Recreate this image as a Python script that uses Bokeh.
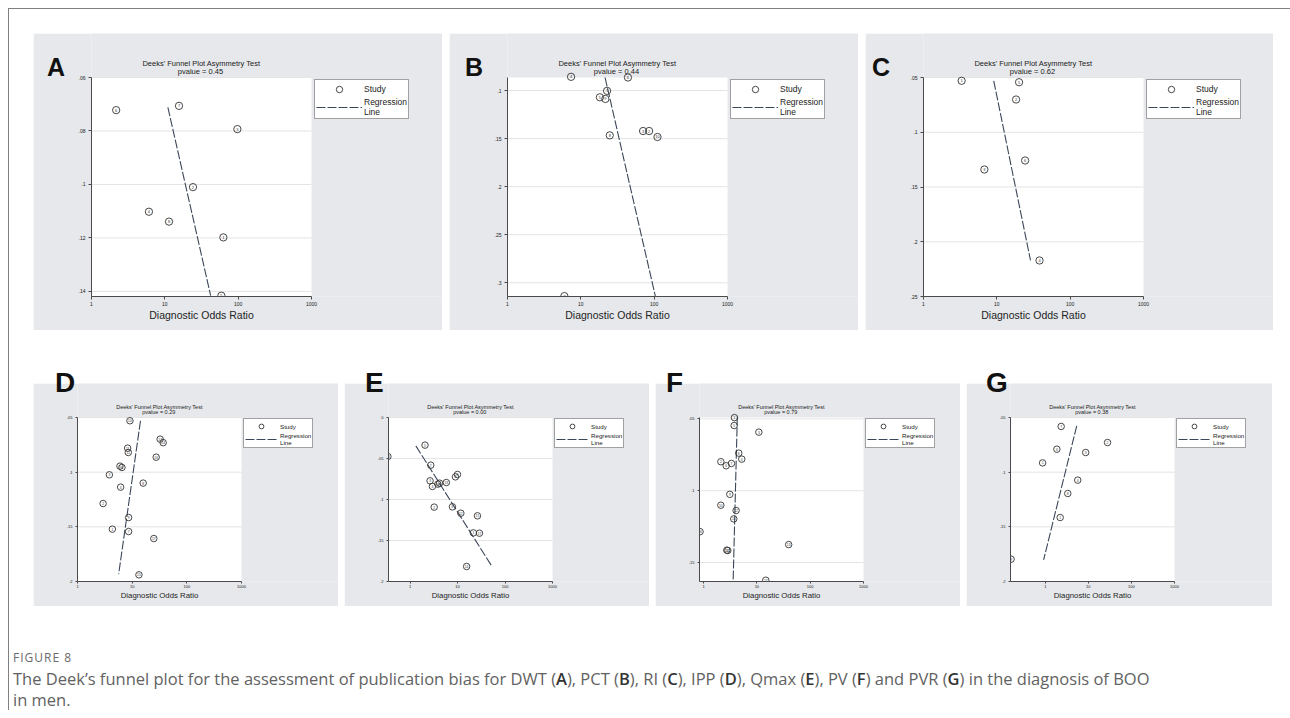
import math
from bokeh.plotting import figure
from bokeh.models import Range1d, FixedTicker, Label, Legend, LegendItem, Div, Spacer, Title
from bokeh.layouts import row, column
from bokeh.core.properties import value
from bokeh.embed import file_html
from bokeh.resources import INLINE

GRAY = "#e6e8eb"
FONT = "Liberation Sans"
INK = "#333333"

# ---------------- data ----------------
x_ticks = [1, 10, 100, 1000]
x_tick_labels = ["1", "10", "100", "1000"]
x_max = 1000
x_title = "Diagnostic Odds Ratio"

A_dor = [2.17, 15.6, 97.5, 24.2, 6.07, 11.4, 62.8, 59.0]
A_ess = [0.0722, 0.0706, 0.0793, 0.101, 0.1102, 0.1139, 0.1198, 0.1416]
A_id = ["6", "7", "3", "2", "4", "8", "1", "5"]
A_reg_dor = [11.0, 42.2]
A_reg_ess = [0.0712, 0.1416]
A_yticks = [0.06, 0.08, 0.10, 0.12, 0.14]
A_ylabels = [".06", ".08", ".1", ".12", ".14"]
A_pvalue = "0.45"

B_dor = [7.36, 43.9, 22.8, 18.2, 21.6, 24.8, 70.6, 85.4, 111.0, 5.96]
B_ess = [0.0857, 0.0864, 0.1003, 0.107, 0.1087, 0.1466, 0.1421, 0.1421, 0.1483, 0.3139]
B_id = ["4", "6", "1", "5", "9", "8", "3", "2", "10", "7"]
B_reg_dor = [21.4, 104.0]
B_reg_ess = [0.0864, 0.3143]
B_yticks = [0.10, 0.15, 0.20, 0.25, 0.30]
B_ylabels = [".1", ".15", ".2", ".25", ".3"]
B_pvalue = "0.44"

C_dor = [3.31, 20.1, 18.3, 24.3, 6.76, 38.2]
C_ess = [0.053, 0.0543, 0.0701, 0.1258, 0.134, 0.2171]
C_id = ["1", "5", "2", "6", "3", "4"]
C_reg_dor = [9.07, 28.8]
C_reg_ess = [0.053, 0.2171]
C_yticks = [0.05, 0.10, 0.15, 0.20, 0.25]
C_ylabels = [".05", ".1", ".15", ".2", ".25"]
C_pvalue = "0.62"

D_dor = [9.1, 32.5, 36.9, 8.26, 8.5, 27.5, 5.98, 6.5, 3.83, 15.9, 6.15, 2.94, 8.61, 4.34, 8.61, 24.9, 13.3]
D_ess = [0.053, 0.0698, 0.073, 0.078, 0.082, 0.0863, 0.0945, 0.0957, 0.1024, 0.110, 0.1137,
         0.1287, 0.1415, 0.1521, 0.1543, 0.1607, 0.1939]
D_id = ["10", "13", "14", "11", "12", "16", "5", "6", "3", "8", "4", "2", "9", "1", "7", "17", "15"]
D_reg_dor = [14.2, 5.66]
D_reg_ess = [0.053, 0.1933]
D_yticks = [0.05, 0.10, 0.15, 0.20]
D_ylabels = [".05", ".1", ".15", ".2"]
D_pvalue = "0.29"

E_dor = [0.34, 2.06, 2.72, 2.63, 2.95, 3.84, 4.17, 5.79, 9.02, 9.95, 3.21, 7.78, 11.7, 26.2, 21.5, 28.9, 15.5]
E_ess = [0.0476, 0.0337, 0.0581, 0.0772, 0.0841, 0.0813, 0.0801, 0.0793, 0.0724, 0.0695,
         0.1093, 0.1089, 0.1167, 0.1199, 0.1407, 0.1411, 0.1817]
E_id = ["16", "5", "7", "3", "4", "10", "11", "13", "8", "9", "2", "6", "12", "15", "1", "17", "14"]
E_reg_dor = [1.32, 53.1]
E_reg_ess = [0.0346, 0.1817]
E_yticks = [0.0, 0.05, 0.10, 0.15, 0.20]
E_ylabels = ["0", ".05", ".1", ".15", ".2"]
E_pvalue = "0.00"

F_dor = [3.8, 3.75, 10.9, 4.58, 5.21, 2.11, 2.66, 3.34, 3.11, 2.11, 4.08, 3.69, 0.86, 39.5, 2.73, 2.85, 14.7]
F_ess = [0.0491, 0.0546, 0.0592, 0.0738, 0.078, 0.0798, 0.0826, 0.081, 0.1025, 0.1101,
         0.1138, 0.1196, 0.1285, 0.1375, 0.1414, 0.1416, 0.1623]
F_id = ["1", "5", "3", "8", "4", "2", "6", "7", "9", "10", "12", "11", "16", "13", "14", "15", "17"]
F_reg_dor = [4.3, 3.59]
F_reg_ess = [0.0484, 0.1632]
F_yticks = [0.05, 0.10, 0.15]
F_ylabels = [".05", ".1", ".15"]
F_pvalue = "0.79"

G_dor = [2.34, 27.9, 1.86, 8.68, 0.867, 5.67, 3.33, 2.22, 0.161]
G_ess = [0.0582, 0.0729, 0.079, 0.082, 0.0915, 0.1073, 0.1195, 0.1415, 0.1796]
G_id = ["7", "2", "6", "3", "5", "4", "8", "1", "9"]
G_reg_dor = [5.38, 0.916]
G_reg_ess = [0.0576, 0.1802]
G_yticks = [0.05, 0.10, 0.15, 0.20]
G_ylabels = [".05", ".1", ".15", ".2"]
G_pvalue = "0.38"

# layout / style constants (pixels)
TOP = dict(H=297, L=58, PW=220, T=44, B=34, msize=7.3, idfs="4px", tfs="7.5px",
           ty=(233, 225), lfs="8.5px", gw=46, gh=16, pad=1, lgap=3, legh=39, stand=2,
           xlfs=10.5, tickfs="5px", tick_out=3, tick_std=2, ylstd=3, xl_standoff=0)
BOT = dict(H=223, L=44, PW=164, T=34, B=25, msize=6.5, idfs="3.3px", tfs="5.5px",
           ty=(174.5, 170), lfs="6.2px", gw=32, gh=12, pad=1, lgap=2, legh=29, stand=3,
           xlfs=7.8, tickfs="4px", tick_out=2, tick_std=1, ylstd=3, xl_standoff=0)

# width of the axis title in em (Liberation Sans / Arial advance widths)
XTITLE_EM = 9.948


def panel(W, cfg, dor, ess, ids, reg_dor, reg_ess, x_min, yr, yticks, ylabels, pval):
    H, L, PW, T, B = cfg["H"], cfg["L"], cfg["PW"], cfg["T"], cfg["B"]
    y_top, y_bot = yr
    PH = H - T - B
    FW = W - L
    decades = math.log10(x_max / x_min)
    x_far = x_min * 10 ** (decades * FW / PW)
    y_far = y_top - (y_bot - y_top) * T / PH

    p = figure(width=W, height=H, x_axis_type="log",
               x_range=Range1d(x_min, x_far), y_range=Range1d(y_bot, y_far),
               output_backend="svg", toolbar_location=None,
               min_border_left=L, min_border_right=0, min_border_top=0, min_border_bottom=B,
               background_fill_color=GRAY, border_fill_color=GRAY, outline_line_color=None)
    p.xgrid.visible = False
    p.ygrid.visible = False

    p.quad(left=[x_min], right=[x_max], top=[y_top], bottom=[y_bot],
           fill_color="white", line_color=None, level="image")
    p.segment(x0=[x_min] * len(yticks), x1=[x_max] * len(yticks), y0=yticks, y1=yticks,
              line_color="#e4e4e4", line_width=1, level="underlay")

    xa = p.xaxis[0]
    xa.ticker = FixedTicker(ticks=x_ticks)
    xa.major_label_overrides = dict(zip(x_ticks, x_tick_labels))
    xa.bounds = (x_min, x_max)
    xa.axis_label_standoff = 0
    ya = p.yaxis[0]
    ya.ticker = FixedTicker(ticks=yticks)
    ya.major_label_overrides = dict(zip(yticks, ylabels))
    ya.bounds = (y_top, y_bot)
    for ax in (xa, ya):
        ax.axis_line_color = "#4a4a4a"
        ax.major_tick_line_color = "#4a4a4a"
        ax.minor_tick_line_color = None
        ax.major_tick_in = 0
        ax.major_tick_out = cfg["tick_out"]
        ax.major_label_text_font = FONT
        ax.major_label_text_font_size = cfg["tickfs"]
        ax.major_label_text_color = "#222222"
    xa.major_label_standoff = cfg["tick_std"]
    ya.major_label_standoff = cfg["ylstd"]

    # axis title centred under the white plot region
    fs = cfg["xlfs"]
    p.add_layout(Title(text=x_title, align="left", offset=PW / 2 - XTITLE_EM * fs / 2,
                       vertical_align="top", text_line_height=0.8,
                       text_font=FONT, text_font_size="%.1fpx" % fs, text_font_style="normal",
                       text_color="#1e1e1e", standoff=cfg["xl_standoff"]), "below")

    rl = p.line(reg_dor, reg_ess, line_color="#3b4658", line_width=1.1, line_dash="9 2")
    rs = p.scatter(dor, ess, marker="circle", size=cfg["msize"], fill_color=None,
                   line_color=INK, line_width=0.9)
    p.text(x=dor, y=ess, text=ids, text_font=value(FONT), text_font_size=value(cfg["idfs"]),
           text_align="center", text_baseline="middle", text_color=INK)

    xc = math.sqrt(x_min * x_max)
    p.add_layout(Label(x=xc, y=cfg["ty"][0], x_units="data", y_units="screen",
                       text="Deeks' Funnel Plot Asymmetry Test", text_font=FONT,
                       text_font_size=cfg["tfs"], text_align="center", text_baseline="middle",
                       text_color="#222222"))
    p.add_layout(Label(x=xc, y=cfg["ty"][1], x_units="data", y_units="screen",
                       text="pvalue =  " + pval, text_font=FONT,
                       text_font_size=cfg["tfs"], text_align="center", text_baseline="middle",
                       text_color="#222222"))

    leg = Legend(items=[LegendItem(label="Study", renderers=[rs]),
                        LegendItem(label="Regression\nLine", renderers=[rl])],
                 location=(PW + cfg["lgap"], PH - cfg["lgap"] - cfg["legh"]),
                 margin=0, padding=cfg["pad"], spacing=0,
                 glyph_width=cfg["gw"], glyph_height=cfg["gh"],
                 label_standoff=cfg["stand"], label_text_font=FONT,
                 label_text_font_size=cfg["lfs"], label_text_line_height=0.9,
                 label_text_color="#222222",
                 border_line_color="#444444", border_line_width=1,
                 background_fill_color="white", background_fill_alpha=1.0)
    p.add_layout(leg)
    return p


pA = panel(409, TOP, A_dor, A_ess, A_id, A_reg_dor, A_reg_ess, 1, (0.06, 0.1419),
           A_yticks, A_ylabels, A_pvalue)
pB = panel(409, TOP, B_dor, B_ess, B_id, B_reg_dor, B_reg_ess, 1, (0.0864, 0.3143),
           B_yticks, B_ylabels, B_pvalue)
pC = panel(408, TOP, C_dor, C_ess, C_id, C_reg_dor, C_reg_ess, 1, (0.05, 0.25),
           C_yticks, C_ylabels, C_pvalue)
pD = panel(305, BOT, D_dor, D_ess, D_id, D_reg_dor, D_reg_ess, 1, (0.05, 0.20),
           D_yticks, D_ylabels, D_pvalue)
pE = panel(305, BOT, E_dor, E_ess, E_id, E_reg_dor, E_reg_ess, 0.35, (0.0, 0.20),
           E_yticks, E_ylabels, E_pvalue)
pF = panel(305, BOT, F_dor, F_ess, F_id, F_reg_dor, F_reg_ess, 0.84, (0.049, 0.1632),
           F_yticks, F_ylabels, F_pvalue)
pG = panel(306, BOT, G_dor, G_ess, G_id, G_reg_dor, G_reg_ess, 0.156, (0.05, 0.20),
           G_yticks, G_ylabels, G_pvalue)

row1 = row(Spacer(width=24), pA, Spacer(width=7), pB, Spacer(width=7), pC)
row2 = row(Spacer(width=24), pD, Spacer(width=6), pE, Spacer(width=6), pF, Spacer(width=6), pG)


def letter_div(letters, lefts, top, size, height):
    spans = "".join('<span style="position:absolute;left:%dpx;top:%dpx;">%s</span>' % (lx, top, lt)
                    for lx, lt in zip(lefts, letters))
    return Div(text=('<div style="position:relative;width:1265px;height:%dpx;'
                     'font-family:\'Liberation Sans\',Arial,sans-serif;font-weight:bold;'
                     'font-size:%dpx;line-height:%dpx;color:#111;">' % (height, size, size))
                    + spans + '</div>',
               width=1265, height=height, margin=0,
               styles={"position": "relative", "z-index": "10", "overflow": "visible"})


top_letters = letter_div(["A", "B", "C"], [38, 456, 863], 46, 25, 24)
gap_letters = letter_div(["D", "E", "F", "G"], [46, 356, 657, 977], 39, 28, 53)

caption_head = "FIGURE 8"
caption_body = ("The Deek\u2019s funnel plot for the assessment of publication bias for DWT (<b>A</b>), "
                "PCT (<b>B</b>), RI (<b>C</b>), IPP (<b>D</b>), Qmax (<b>E</b>), PV (<b>F</b>) and "
                "PVR (<b>G</b>) in the diagnosis of BOO in men.")
cap = Div(text=('<div style="padding:44px 0 0 4px;font-family:\'Open Sans\',sans-serif;">'
                '<div style="font-size:12px;line-height:16px;letter-spacing:1px;color:#6b6b6b;">'
                + caption_head + '</div>'
                '<div style="margin-top:2px;width:1150px;font-size:16.5px;line-height:21px;color:#626262;">'
                + caption_body.replace("<b>", '<b style="color:#333;font-weight:600;">') + '</div></div>'),
          width=1265, height=104, margin=0)

content = column(top_letters, row1, gap_letters, row2, cap)
top_line = Div(text="", width=1282, height=1, margin=0, styles={"background-color": "#808080"})
left_line = Div(text="", width=1, height=701, margin=0, styles={"background-color": "#808080"})
framed = column(top_line, row(left_line, content))
root = column(Spacer(height=8), row(Spacer(width=8), framed))

open("out.html", "w").write(file_html(root, INLINE, "Deeks funnel plots"))
